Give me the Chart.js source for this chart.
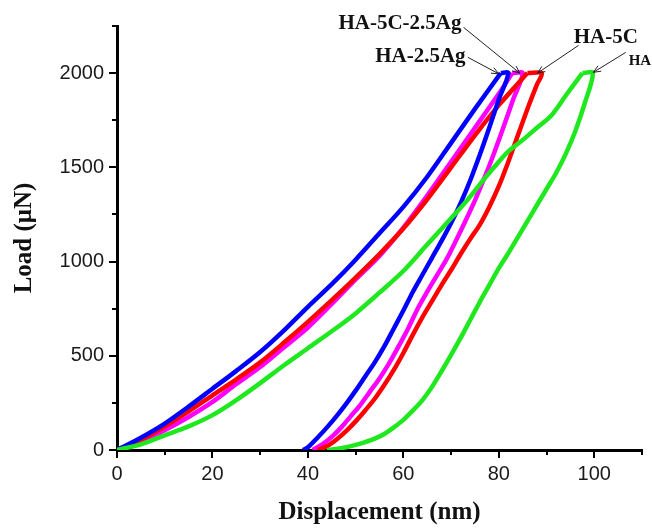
<!DOCTYPE html>
<html>
<head>
<meta charset="utf-8">
<script src="https://cdn.jsdelivr.net/npm/chart.js@4"></script>
<style>
  html, body { margin: 0; padding: 0; background: #fff; }
  #wrap { width: 652px; height: 528px; }
</style>
</head>
<body>
<div id="wrap"><canvas id="loadChart" width="652" height="528"></canvas></div>
<script>
// HA (green)
const haLoadDisp = [0, 5, 10, 15, 20, 25, 30, 35, 40, 45, 50, 55, 60, 65, 70, 73.4, 77, 80, 82, 85, 88, 91, 94, 97.5];
const haLoadForce = [0, 30, 78, 125, 185, 265, 355, 450, 540, 630, 725, 835, 950, 1090, 1230, 1326, 1440, 1530, 1585, 1645, 1710, 1775, 1880, 2000];
const haUnloadDisp = [99.7, 98, 96, 94, 92, 90, 88, 86, 84, 82, 80, 78, 76, 74, 72, 70, 68, 66, 64, 62, 60, 58, 56, 54, 52, 50, 48, 46, 44];
const haUnloadForce = [2000, 1840, 1690, 1570, 1470, 1385, 1300, 1215, 1130, 1045, 965, 875, 785, 690, 595, 505, 418, 335, 265, 210, 160, 120, 85, 60, 42, 27, 15, 6, 0];

// HA-5C (red)
const ha5cLoadDisp = [0, 5, 10, 15, 20, 25, 30, 35, 40, 45, 50, 55, 60, 65, 70, 75, 80, 86];
const ha5cLoadForce = [0, 55, 125, 205, 290, 375, 465, 570, 680, 795, 915, 1040, 1175, 1330, 1500, 1670, 1830, 2000];
const ha5cUnloadDisp = [89, 88, 86, 84, 82, 80, 78, 76, 74, 72, 70, 68, 66, 64, 62, 60, 58, 56, 54, 52, 50, 48, 46, 44, 42];
const ha5cUnloadForce = [2000, 1940, 1810, 1670, 1530, 1400, 1290, 1195, 1120, 1040, 955, 875, 790, 705, 612, 515, 425, 345, 272, 210, 152, 100, 56, 20, 0];

// HA-2.5Ag (blue)
const haAgLoadDisp = [0, 5, 10, 15, 20, 25, 30, 35, 40, 45, 50, 55, 60, 65, 70, 75, 80.4];
const haAgLoadForce = [0, 65, 140, 230, 325, 420, 520, 635, 760, 880, 1010, 1150, 1290, 1450, 1630, 1810, 2000];
const haAgUnloadDisp = [82, 80, 78, 76, 74, 72, 70, 68, 66, 64, 62, 60, 58, 56, 54, 52, 50, 48, 46, 44, 42, 40, 39];
const haAgUnloadForce = [2000, 1860, 1710, 1565, 1430, 1310, 1205, 1110, 1020, 930, 840, 740, 645, 550, 465, 390, 315, 245, 180, 120, 65, 15, 0];

// HA-5C-2.5Ag (magenta)
const ha5cAgLoadDisp = [0, 5, 10, 15, 20, 25, 30, 35, 40, 45, 50, 55, 60, 65, 70, 75, 80, 82.8];
const ha5cAgLoadForce = [0, 45, 105, 175, 255, 350, 440, 545, 650, 775, 905, 1030, 1180, 1350, 1530, 1710, 1890, 2000];
const ha5cAgUnloadDisp = [85, 83, 81, 79, 77, 75, 73, 71, 69, 67, 65, 63, 61, 59, 57, 55, 53, 51, 49, 47, 45, 43, 41];
const ha5cAgUnloadForce = [2000, 1860, 1715, 1575, 1445, 1325, 1215, 1110, 1010, 925, 840, 750, 645, 550, 460, 380, 310, 240, 180, 120, 70, 30, 0];

const xMajorTicks = [0, 20, 40, 60, 80, 100];
const yMajorTicks = [0, 500, 1000, 1500, 2000];
const xMinorTicks = [10, 30, 50, 70, 90, 110];
const yMinorTicks = [250, 750, 1250, 1750, 2250];

// arrow labels, in data units
const notes = [
  { text: 'HA-5C-2.5Ag', tx: 46.4, ty: 2262, fx: 72.6, fy: 2243, ax: 84.4, ay: 2000, size: 21 },
  { text: 'HA-2.5Ag', tx: 54.1, ty: 2089, fx: 73.5, fy: 2084, ax: 80.0, ay: 1996, size: 21 },
  { text: 'HA-5C', tx: 95.7, ty: 2190, fx: 96.7, fy: 2147, ax: 88.1, ay: 2000, size: 21 },
  { text: 'HA', tx: 107.2, ty: 2063, fx: 106.6, fy: 2110, ax: 99.8, ay: 2004, size: 15 }
];

function toPts(d, f) {
  return d.map((v, i) => ({ x: v, y: f[i] }));
}

// unloading branch starts at the loading peak, so the hold segment is kept
function unloadPts(ld, lf, ud, uf) {
  const last = ld.length - 1;
  return [{ x: ld[last], y: lf[last] }].concat(toPts(ud, uf));
}

const serif = "'Liberation Serif', 'Times New Roman', serif";
const sans = "'Liberation Sans', Arial, sans-serif";

const extrasPlugin = {
  id: 'extras',
  afterDraw(chart) {
    const ctx = chart.ctx;
    const xs = chart.scales.x;
    const ys = chart.scales.y;
    const area = chart.chartArea;
    ctx.save();
    // minor ticks
    ctx.strokeStyle = '#000';
    ctx.lineWidth = 2;
    xMinorTicks.forEach(v => {
      const px = Math.round(xs.getPixelForValue(v));
      ctx.beginPath();
      ctx.moveTo(px, area.bottom);
      ctx.lineTo(px, area.bottom + 5);
      ctx.stroke();
    });
    yMinorTicks.forEach(v => {
      const py = Math.round(ys.getPixelForValue(v));
      ctx.beginPath();
      ctx.moveTo(area.left, py);
      ctx.lineTo(area.left - 5, py);
      ctx.stroke();
    });
    // labels with arrows
    ctx.strokeStyle = '#222';
    ctx.fillStyle = '#111';
    ctx.lineWidth = 1;
    notes.forEach(n => {
      ctx.font = 'bold ' + n.size + 'px ' + serif;
      ctx.textBaseline = 'middle';
      ctx.textAlign = 'left';
      ctx.fillText(n.text, xs.getPixelForValue(n.tx), ys.getPixelForValue(n.ty));
      const x1 = xs.getPixelForValue(n.fx), y1 = ys.getPixelForValue(n.fy);
      const x2 = xs.getPixelForValue(n.ax), y2 = ys.getPixelForValue(n.ay);
      ctx.beginPath();
      ctx.moveTo(x1, y1);
      ctx.lineTo(x2, y2);
      const ang = Math.atan2(y2 - y1, x2 - x1);
      ctx.moveTo(x2 - 8 * Math.cos(ang - 0.4), y2 - 8 * Math.sin(ang - 0.4));
      ctx.lineTo(x2, y2);
      ctx.lineTo(x2 - 8 * Math.cos(ang + 0.4), y2 - 8 * Math.sin(ang + 0.4));
      ctx.stroke();
    });
    ctx.restore();
  }
};

function makeSet(label, color, pts) {
  return {
    label: label,
    data: pts,
    showLine: true,
    borderColor: color,
    backgroundColor: color,
    borderWidth: 4.5,
    borderJoinStyle: 'miter',
    pointRadius: 0,
    fill: false,
    tension: 0.3
  };
}

const green = '#1fe81f', blue = '#0000ff', red = '#ff0000', magenta = '#ff00ff';

new Chart(document.getElementById('loadChart'), {
  type: 'scatter',
  data: {
    datasets: [
      makeSet('HA', green, toPts(haLoadDisp, haLoadForce)),
      makeSet('HA', green, unloadPts(haLoadDisp, haLoadForce, haUnloadDisp, haUnloadForce)),
      makeSet('HA-2.5Ag', blue, toPts(haAgLoadDisp, haAgLoadForce)),
      makeSet('HA-2.5Ag', blue, unloadPts(haAgLoadDisp, haAgLoadForce, haAgUnloadDisp, haAgUnloadForce)),
      makeSet('HA-5C', red, toPts(ha5cLoadDisp, ha5cLoadForce)),
      makeSet('HA-5C', red, unloadPts(ha5cLoadDisp, ha5cLoadForce, ha5cUnloadDisp, ha5cUnloadForce)),
      makeSet('HA-5C-2.5Ag', magenta, toPts(ha5cAgLoadDisp, ha5cAgLoadForce)),
      makeSet('HA-5C-2.5Ag', magenta, unloadPts(ha5cAgLoadDisp, ha5cAgLoadForce, ha5cAgUnloadDisp, ha5cAgUnloadForce))
    ]
  },
  options: {
    responsive: false,
    animation: false,
    layout: { padding: { top: 26, right: 10, left: 0, bottom: 0 } },
    plugins: { legend: { display: false }, tooltip: { enabled: false } },
    scales: {
      x: {
        type: 'linear',
        min: 0,
        max: 110,
        afterFit: s => { s.height = 78; },
        afterBuildTicks: s => { s.ticks = xMajorTicks.map(v => ({ value: v })); },
        ticks: { font: { family: sans, size: 20 }, color: '#1a1a1a', padding: 4, maxRotation: 0, callback: v => String(v) },
        grid: { drawOnChartArea: false, drawTicks: true, tickLength: 8, color: '#000', lineWidth: 2 },
        border: { display: true, color: '#000', width: 3 },
        title: { display: true, text: 'Displacement (nm)', color: '#111', font: { family: serif, size: 25, weight: 'bold' }, padding: { top: 0, bottom: 0 } }
      },
      y: {
        type: 'linear',
        min: 0,
        max: 2250,
        afterFit: s => { s.width = 117; },
        afterBuildTicks: s => { s.ticks = yMajorTicks.map(v => ({ value: v })); },
        ticks: { font: { family: sans, size: 20 }, color: '#1a1a1a', padding: 5, callback: v => String(v) },
        grid: { drawOnChartArea: false, drawTicks: true, tickLength: 8, color: '#000', lineWidth: 2 },
        border: { display: true, color: '#000', width: 3 },
        title: { display: true, text: 'Load (μN)', color: '#111', font: { family: serif, size: 25, weight: 'bold' }, padding: { top: 10, bottom: 0 } }
      }
    }
  },
  plugins: [extrasPlugin]
});
</script>
</body>
</html>
